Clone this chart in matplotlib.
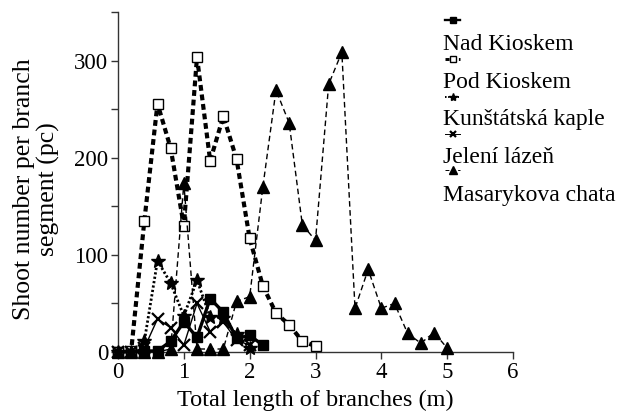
import matplotlib
matplotlib.use("Agg")
import matplotlib.pyplot as plt
from matplotlib.lines import Line2D

plt.rcParams['font.family'] = ['Liberation Serif', 'DejaVu Serif']

# ---- data ----
x_nad = [0, 0.2, 0.4, 0.6, 0.8, 1.0, 1.2, 1.4, 1.6, 1.8, 2.0, 2.2]
y_nad = [0, 0, 1, 1, 11, 31, 15, 55, 41, 14, 17, 7]

x_pod = [0, 0.2, 0.4, 0.6, 0.8, 1.0, 1.2, 1.4, 1.6, 1.8, 2.0, 2.2, 2.4, 2.6, 2.8, 3.0]
y_pod = [0, 1, 135, 256, 210, 130, 304, 197, 243, 199, 117, 68, 40, 28, 11, 6]

x_kun = [0, 0.2, 0.4, 0.6, 0.8, 1.0, 1.2, 1.4, 1.6, 1.8, 2.0]
y_kun = [0, 0, 11, 94, 71, 37, 74, 36, 35, 18, 4]

x_jel = [0, 0.2, 0.4, 0.6, 0.8, 1.0, 1.2, 1.4, 1.6, 1.8, 2.0]
y_jel = [0, 0, 4, 34, 25, 7, 50, 21, 31, 12, 7]

x_mas = [0, 0.2, 0.4, 0.6, 0.8, 1.0, 1.2, 1.4, 1.6, 1.8, 2.0, 2.2, 2.4, 2.6, 2.8,
         3.0, 3.2, 3.4, 3.6, 3.8, 4.0, 4.2, 4.4, 4.6, 4.8, 5.0]
y_mas = [0, 0, 0, 0, 3, 174, 3, 3, 3, 52, 57, 170, 270, 236, 131,
         115, 276, 309, 45, 85, 45, 50, 19, 9, 20, 4]

labels = ["Nad Kioskem", "Pod Kioskem", "Kunštátská kaple", "Jelení lázeň", "Masarykova chata"]
x_ticks = [0, 1, 2, 3, 4, 5, 6]
y_ticks = [0, 100, 200, 300]

# ---- styles ----
styles = [
    dict(color='black', lw=2.4, ls='-', marker='s', ms=7, mfc='black', mec='black'),
    dict(color='black', lw=3.0, ls=(0, (1.4, 0.9)), marker='s', ms=7, mfc='white', mec='black', mew=1.0),
    dict(color='black', lw=2.0, ls=(0, (0.8, 0.8)), marker='*', ms=10, mfc='black', mec='black'),
    dict(color='black', lw=1.0, ls='-', marker='x', ms=8, mew=1.6, mec='black'),
    dict(color='black', lw=1.0, ls=(0, (4, 2.5)), marker='^', ms=9, mfc='black', mec='black'),
]

fig = plt.figure(figsize=(6.29, 4.15), dpi=100)
ax = fig.add_axes([0.1876, 0.152, 0.628, 0.818])

series = [(x_nad, y_nad), (x_pod, y_pod), (x_kun, y_kun), (x_jel, y_jel), (x_mas, y_mas)]
order = [4, 3, 2, 0, 1]
for i in order:
    xs, ys = series[i]
    ax.plot(xs, ys, clip_on=False, zorder=3 + i, **styles[i])

ax.set_xlim(0, 6)
ax.set_ylim(0, 350)
ax.set_xticks(x_ticks)
ax.set_yticks(y_ticks)
ax.set_yticks([50, 150, 250, 350], minor=True)
ax.spines['top'].set_visible(False)
ax.spines['right'].set_visible(False)
for s in ['left', 'bottom']:
    ax.spines[s].set_linewidth(1.0)
    ax.spines[s].set_color('#333333')
ax.tick_params(axis='both', which='major', length=5, width=1.0, labelsize=16.5, pad=2, color='#333333')
ax.tick_params(axis='y', which='minor', length=5, width=1.0, color='#333333')
ax.set_xlabel("Total length of branches (m)", fontsize=17.5, labelpad=5)
ax.set_ylabel("Shoot number per branch\nsegment (pc)", fontsize=18.5, labelpad=6, linespacing=1.1)
ax.yaxis.set_label_coords(-0.147, 0.48)

# legend: sample above label
samp_y = [20, 59, 97, 134, 170]
text_y = [44, 82, 119, 157, 196]
W, H = 629.0, 415.0
for i in range(5):
    st = styles[i]
    fig.add_artist(Line2D([445 / W, 460 / W], [1 - samp_y[i] / H] * 2, transform=fig.transFigure,
                          color='black', lw=st['lw'] * 0.7, ls=st['ls']))
    mk = {k: v for k, v in st.items() if k in ('marker', 'mfc', 'mec', 'mew')}
    fig.add_artist(Line2D([452.5 / W], [1 - samp_y[i] / H], transform=fig.transFigure, ls='none',
                          ms=st['ms'] * 0.6, **mk))
    fig.text(443 / W, 1 - text_y[i] / H, labels[i], fontsize=17, va='center', ha='left')

fig.savefig("out.png", dpi=100)
